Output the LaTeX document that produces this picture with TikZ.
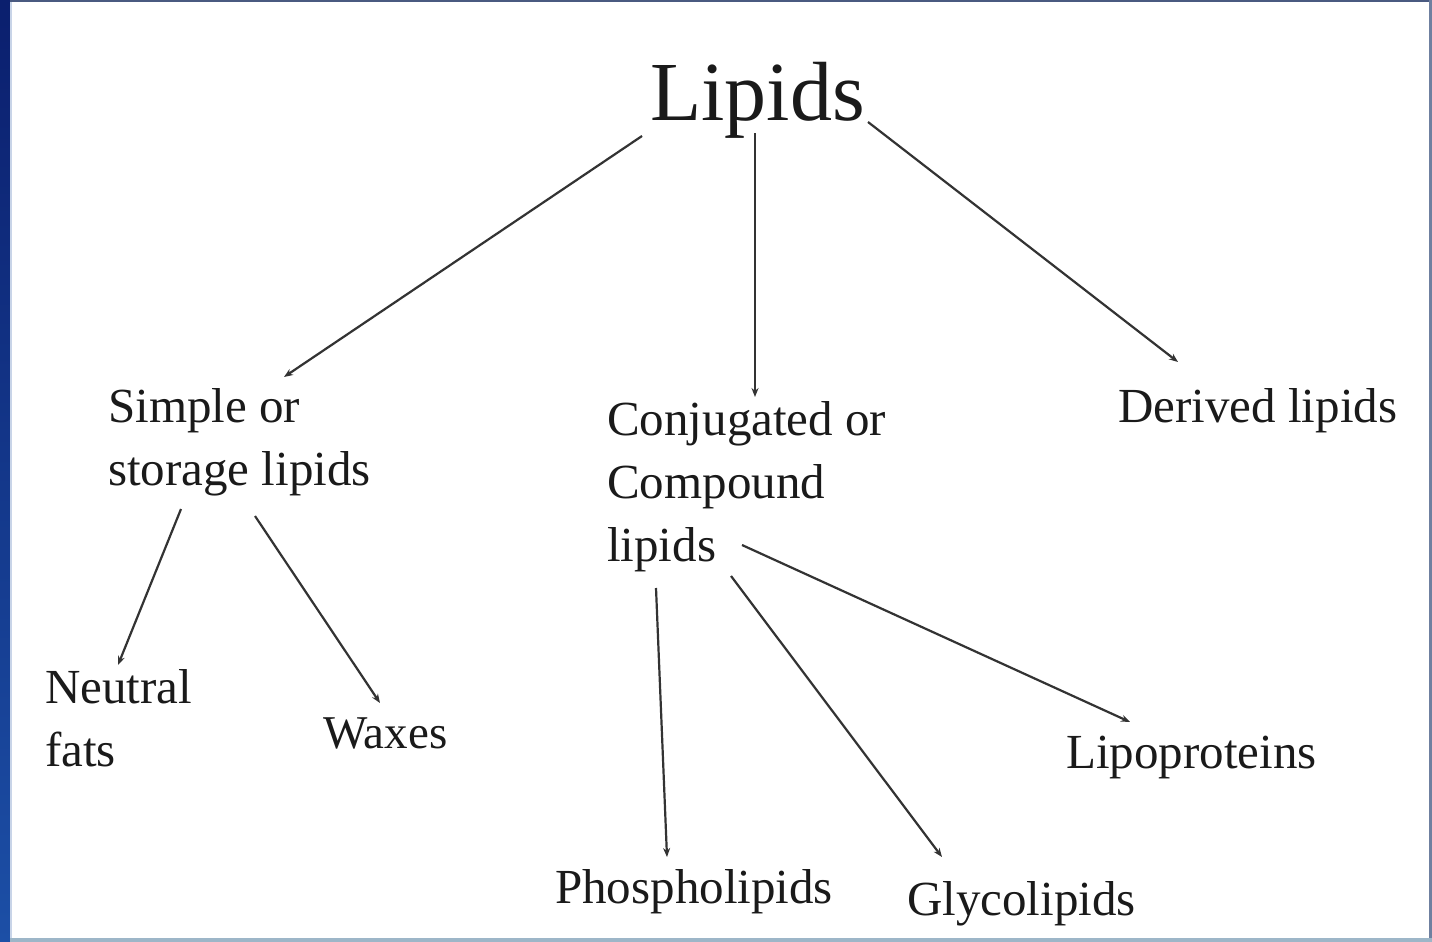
\documentclass[tikz,border=0pt]{standalone}
\usepackage{fontspec}
\setmainfont{Liberation Serif}
\usetikzlibrary{arrows.meta}
\definecolor{navy}{HTML}{0B1F6E}
\definecolor{barblue}{HTML}{1C4FA6}
\definecolor{ink}{HTML}{1A1A1A}
\definecolor{linec}{HTML}{333333}
\definecolor{topb}{HTML}{4A5A80}
\definecolor{rightb}{HTML}{6F80A0}
\definecolor{botb}{HTML}{9DB6C8}
\definecolor{edgeb}{HTML}{C8D4E8}
\tikzset{
  lbl/.style={inner sep=0pt, text=ink, font=\fontsize{49}{63}\selectfont, align=left},
  conn/.style={draw=linec, line width=2.2pt, -{Stealth[length=9pt,width=7pt]}},
}
\begin{document}
\begin{tikzpicture}[x=1pt,y=-1pt]
\useasboundingbox (0,0) rectangle (1432,942);
\fill[white] (0,0) rectangle (1432,942);
\shade[top color=navy, bottom color=barblue] (0,0) rectangle (10,942);
\fill[topb] (10,0) rectangle (1432,2.5);
\fill[rightb] (1429,0) rectangle (1432,942);
\fill[botb] (10,938) rectangle (1432,942);
\fill[edgeb] (10,2.5) rectangle (12,938);

\node[lbl, anchor=base west, font=\fontsize{84}{84}\selectfont] (lipids) at (650,120) {Lipids};
\node[lbl, anchor=north west] (simple) at (108,388) {Simple or\\storage lipids};
\node[lbl, anchor=north west] (compound) at (607,401) {Conjugated or\\Compound\\lipids};
\node[lbl, anchor=base west] (derived) at (1118,422) {Derived lipids};
\node[lbl, anchor=north west] (neutral) at (45,669) {Neutral\\fats};
\node[lbl, anchor=base west, font=\fontsize{47}{60}\selectfont] (waxes) at (323,748) {Waxes};
\node[lbl, anchor=base west] (lipo) at (1066,768) {Lipoproteins};
\node[lbl, anchor=base west] (phospho) at (555,903) {Phospholipids};
\node[lbl, anchor=base west] (glyco) at (907,915) {Glycolipids};

\draw[conn] ([shift={(-8,16)}]lipids.base west) -- ([shift={(176,-11)}]simple.north west);
\draw[conn] ([shift={(105,13)}]lipids.base west) -- ([shift={(148,-4)}]compound.north west);
\draw[conn] ([shift={(218,2)}]lipids.base west) -- ([shift={(60,-60)}]derived.base west);
\draw[conn] ([shift={(73,121)}]simple.north west) -- ([shift={(73,-4)}]neutral.north west);
\draw[conn] ([shift={(147,128)}]simple.north west) -- ([shift={(57,-45)}]waxes.base west);
\draw[conn] ([shift={(49,187)}]compound.north west) -- ([shift={(112,-46)}]phospho.base west);
\draw[conn] ([shift={(124,175)}]compound.north west) -- ([shift={(35,-58)}]glyco.base west);
\draw[conn] ([shift={(135,144)}]compound.north west) -- ([shift={(64,-46)}]lipo.base west);
\end{tikzpicture}
\end{document}
